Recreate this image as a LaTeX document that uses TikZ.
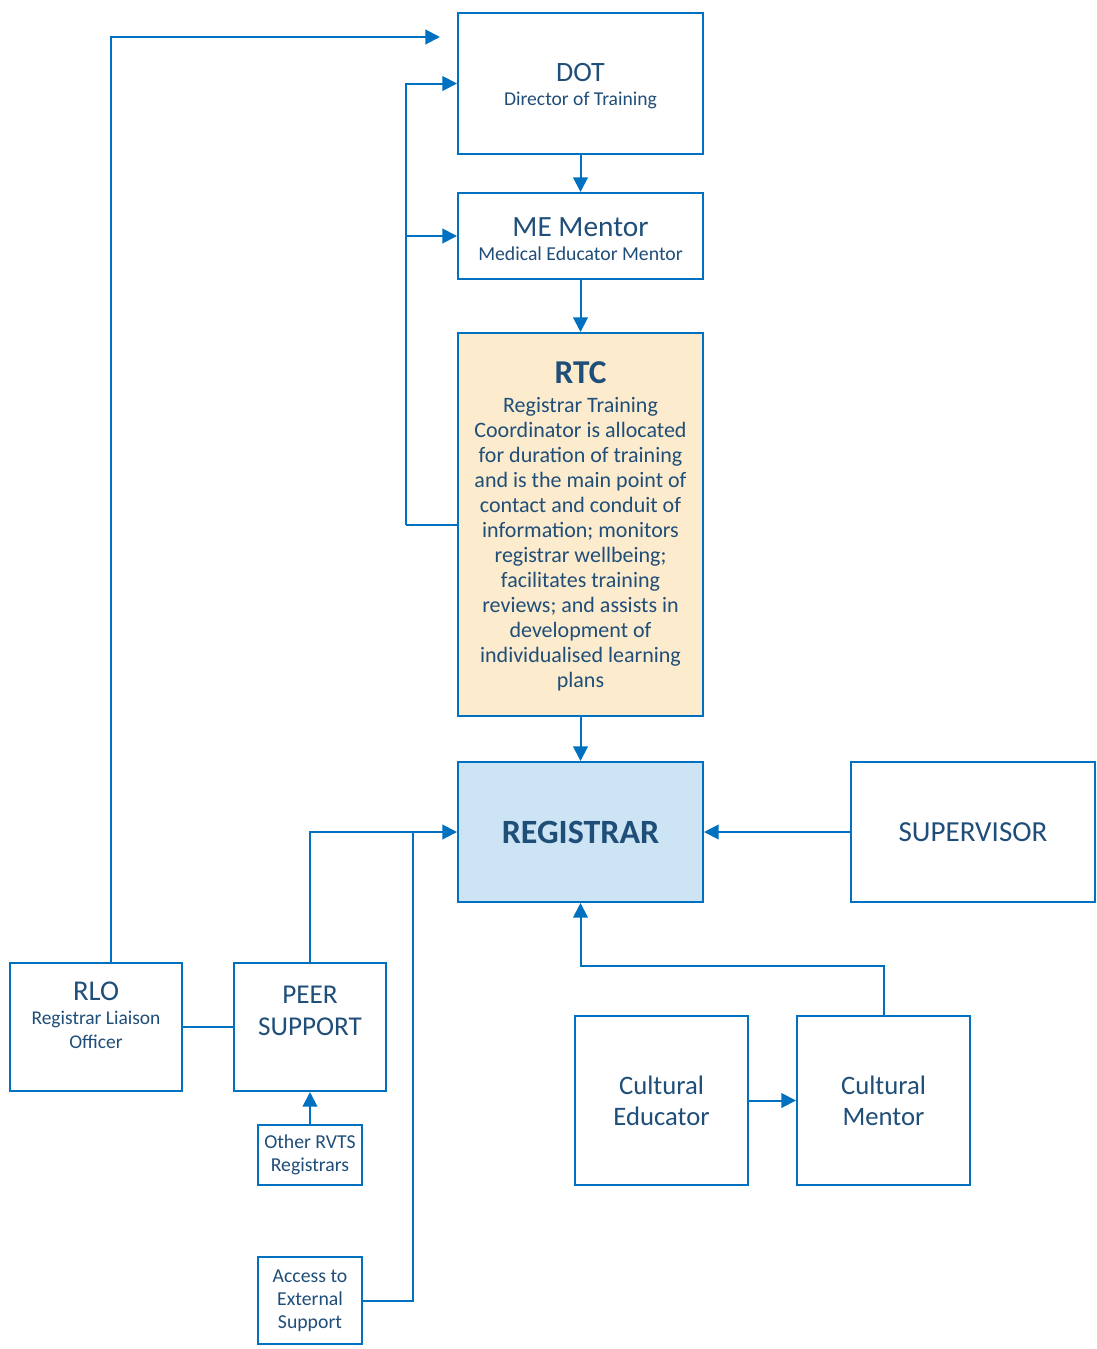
\documentclass[tikz,border=0pt]{standalone}
\usepackage{fontspec}
\setmainfont{Carlito}
\usetikzlibrary{arrows.meta}
\definecolor{wirec}{HTML}{0070C0}
\definecolor{ink}{HTML}{1F4E79}
\definecolor{rtcfill}{HTML}{FCEBCD}
\definecolor{regfill}{HTML}{CCE4F3}

\begin{document}
\begin{tikzpicture}[x=0.75pt, y=-0.75pt,
    box/.style={draw=wirec, line width=1.5pt, fill=white, inner sep=0pt, align=center, text=ink},
    big/.style={font=\fontsize{20}{23.25}\selectfont},
    small/.style={font=\fontsize{14.8}{17.25}\selectfont},
    wire/.style={draw=wirec, line width=1.5pt},
    link/.style={wire, -{Triangle[length=11pt, width=11pt]}}]

  \useasboundingbox (0,0) rectangle (1096,1349);

  % Top of the chain: director, mentor and coordinator.
  \node[box, minimum width=183.75pt, minimum height=105.75pt, font=\fontsize{14.7}{18}\selectfont, text height=36pt] (dot) at (580.5,83.5)
    {{\fontsize{21}{24}\selectfont DOT}\\Director of Training};
  \node[box, minimum width=183.75pt, minimum height=64.5pt, font=\fontsize{14.8}{18}\selectfont, text height=36.5pt] (me) at (580.5,236)
    {{\fontsize{22}{24}\selectfont ME Mentor}\\Medical Educator Mentor};
  \node[box, fill=rtcfill, minimum width=183.75pt, minimum height=287.25pt, font=\fontsize{16.5}{18.75}\selectfont, text depth=-3.5pt] (rtc) at (580.5,524.5)
    {{\fontsize{25}{30}\selectfont\bfseries RTC}\\[2.5pt]
     Registrar Training\\Coordinator is allocated\\for duration of training\\and is the main point of\\
     contact and conduit of\\information; monitors\\registrar wellbeing;\\facilitates training\\
     reviews; and assists in\\development of\\individualised learning\\plans};

  % The registrar and the supervisor.
  \node[box, fill=regfill, minimum width=183.75pt, minimum height=105pt, font=\fontsize{25.5}{28}\selectfont\bfseries] (reg) at (580.5,832) {REGISTRAR};
  \node[box, minimum width=183pt, minimum height=105pt, font=\fontsize{21.8}{26}\selectfont] (sup) at (973,832) {SUPERVISOR};

  % Support on the left.
  \node[box, minimum width=129pt, minimum height=96pt, font=\fontsize{14.6}{18}\selectfont, text depth=18pt] (rlo) at (96,1027)
    {{\fontsize{21.5}{24}\selectfont RLO}\\Registrar Liaison\\Officer};
  \node[box, minimum width=114pt, minimum height=96pt, font=\fontsize{20.4}{24}\selectfont, text depth=24pt] (peer) at (310,1027) {PEER\\SUPPORT};
  \node[box, small, minimum width=78pt, minimum height=45pt] (other) at (310,1155) {Other RVTS\\Registrars};
  \node[box, small, minimum width=78pt, minimum height=65.25pt] (access) at (310,1300.5) {Access to\\External\\Support};

  % Cultural support on the right.
  \node[box, big, minimum width=129.75pt, minimum height=126.75pt] (cedu) at (661.5,1100.5) {Cultural\\Educator};
  \node[box, big, minimum width=129.75pt, minimum height=126.75pt] (cment) at (883.5,1100.5) {Cultural\\Mentor};

  \coordinate (dotin) at (440,37);
  \coordinate (split) at (406,524.5);
  \coordinate (join) at (413,832);

  % Connectors.
  \draw[link] ([xshift=11.25pt]rlo.north) |- (dotin);
  \draw[link] (dot) -- (me);
  \draw[link] (me) -- (rtc);
  \draw[wire] (rtc.west) -- (split);
  \draw[link] (split) |- (dot.west);
  \draw[link] (split |- me.west) -- (me.west);
  \draw[link] (rtc) -- (reg);
  \draw[link] (sup) -- (reg);
  \draw[link] (peer.north) |- (reg.west);
  \draw[wire] (access.east) -| (join);
  \draw[wire] (rlo) -- (peer);
  \draw[link] (other) -- (peer);
  \draw[link] (cedu) -- (cment);
  \draw[link] (cment.north) -- ++(0,-49) -| (reg.south);
\end{tikzpicture}
\end{document}
